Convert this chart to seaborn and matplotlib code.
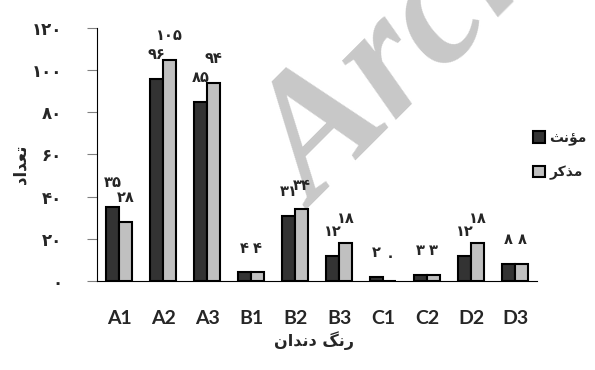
import pandas as pd
import seaborn as sns
import matplotlib.pyplot as plt

categories = ['A1', 'A2', 'A3', 'B1', 'B2', 'B3', 'C1', 'C2', 'D2', 'D3']
female = [35, 96, 85, 4, 31, 12, 2, 3, 12, 8]
male = [28, 105, 94, 4, 34, 18, 0, 3, 18, 8]
series = ['مؤنث', 'مذکر']
y_ticks = [0, 20, 40, 60, 80, 100, 120]

# minimal arabic shaping: matplotlib has no text shaping
FORMS = {
    'ت': ('\uFE95', '\uFE96', '\uFE97', '\uFE98'),
    'ع': ('\uFEC9', '\uFECA', '\uFECB', '\uFECC'),
    'د': ('\uFEA9', '\uFEAA', None, None),
    'ا': ('\uFE8D', '\uFE8E', None, None),
    'ر': ('\uFEAD', '\uFEAE', None, None),
    'ن': ('\uFEE5', '\uFEE6', '\uFEE7', '\uFEE8'),
    'گ': ('\uFB92', '\uFB93', '\uFB94', '\uFB95'),
    'م': ('\uFEE1', '\uFEE2', '\uFEE3', '\uFEE4'),
    'ؤ': ('\uFE85', '\uFE86', None, None),
    'ث': ('\uFE99', '\uFE9A', '\uFE9B', '\uFE9C'),
    'ذ': ('\uFEAB', '\uFEAC', None, None),
    'ک': ('\uFB8E', '\uFB8F', '\uFB90', '\uFB91'),
}


def shape(text):
    out = []
    for i, ch in enumerate(text):
        if ch not in FORMS:
            out.append(ch)
            continue
        prev = text[i - 1] if i > 0 else ''
        nxt = text[i + 1] if i + 1 < len(text) else ''
        joins_prev = prev in FORMS and FORMS[prev][2] is not None
        joins_next = nxt in FORMS and FORMS[ch][2] is not None
        iso, fin, ini, med = FORMS[ch]
        if joins_prev and joins_next:
            out.append(med)
        elif joins_prev:
            out.append(fin)
        elif joins_next:
            out.append(ini)
        else:
            out.append(iso)
    return ''.join(out)[::-1]


def fa(n):
    return str(n).translate(str.maketrans('0123456789', '۰۱۲۳۴۵۶۷۸۹'))


df = pd.DataFrame({
    'cat': categories * 2,
    'count': female + male,
    'sex': [shape(series[0])] * len(categories) + [shape(series[1])] * len(categories),
})

sns.set_style('white')
plt.rcParams['font.family'] = ['DejaVu Sans']
plt.rcParams['font.weight'] = 'bold'

fig = plt.figure(figsize=(5.95, 3.7), dpi=100)
ax = fig.add_axes([0.163, 0.241, 0.74, 0.683])
ax.patch.set_alpha(0)

# watermark, behind the axes
fig.text(316 / 595, 1 - 210 / 370, 'Archive', fontsize=125, family='Liberation Serif', style='italic',
         fontweight='bold', color='#c8c8c8', rotation=45, rotation_mode='anchor',
         ha='left', va='baseline', zorder=-1)

sns.barplot(data=df, x='cat', y='count', hue='sex', palette=['#333333', '#c0c0c0'],
            edgecolor='black', linewidth=1.5, width=0.6, ax=ax)

for cont, vals in zip(ax.containers, [female, male]):
    ax.bar_label(cont, labels=[fa(v) for v in vals], padding=12, fontsize=10.5,
                 fontweight='bold')

ax.set_xlim(-0.5, len(categories) - 0.5)
ax.set_ylim(0, 120)
ax.set_yticks(y_ticks)
ax.set_yticklabels([fa(t) for t in y_ticks], fontsize=12, fontweight='bold')
ax.set_xticks(range(len(categories)))
ax.set_xticklabels(categories, fontsize=14, fontweight='bold', family='Lato')
ax.set_xticks([i - 0.5 for i in range(len(categories) + 1)], minor=True)
ax.tick_params(axis='x', which='major', length=0, pad=21)
ax.tick_params(axis='x', which='minor', length=6, width=0.8, color='#808080', direction='out')
ax.tick_params(axis='y', length=7, width=0.8, color='#808080', direction='out', pad=18, left=True)
sns.despine(ax=ax)
ax.spines['left'].set_color('black')
ax.spines['bottom'].set_color('black')
ax.set_xlabel('')
ax.set_ylabel('')

fig.text(0.528, 0.08, shape('رنگ دندان'), fontsize=11.5, fontweight='bold', ha='center', va='center')
fig.text(0.035, 0.555, shape('تعداد'), fontsize=12, fontweight='bold', rotation=90,
         ha='center', va='center')

ax.legend(loc='center left', bbox_to_anchor=(0.895, 0.58), bbox_transform=fig.transFigure,
          frameon=False, fontsize=10, handlelength=0.9, handleheight=0.9,
          handletextpad=0.3, labelspacing=1.4, borderaxespad=0, borderpad=0)

fig.savefig('out.png', dpi=100)
